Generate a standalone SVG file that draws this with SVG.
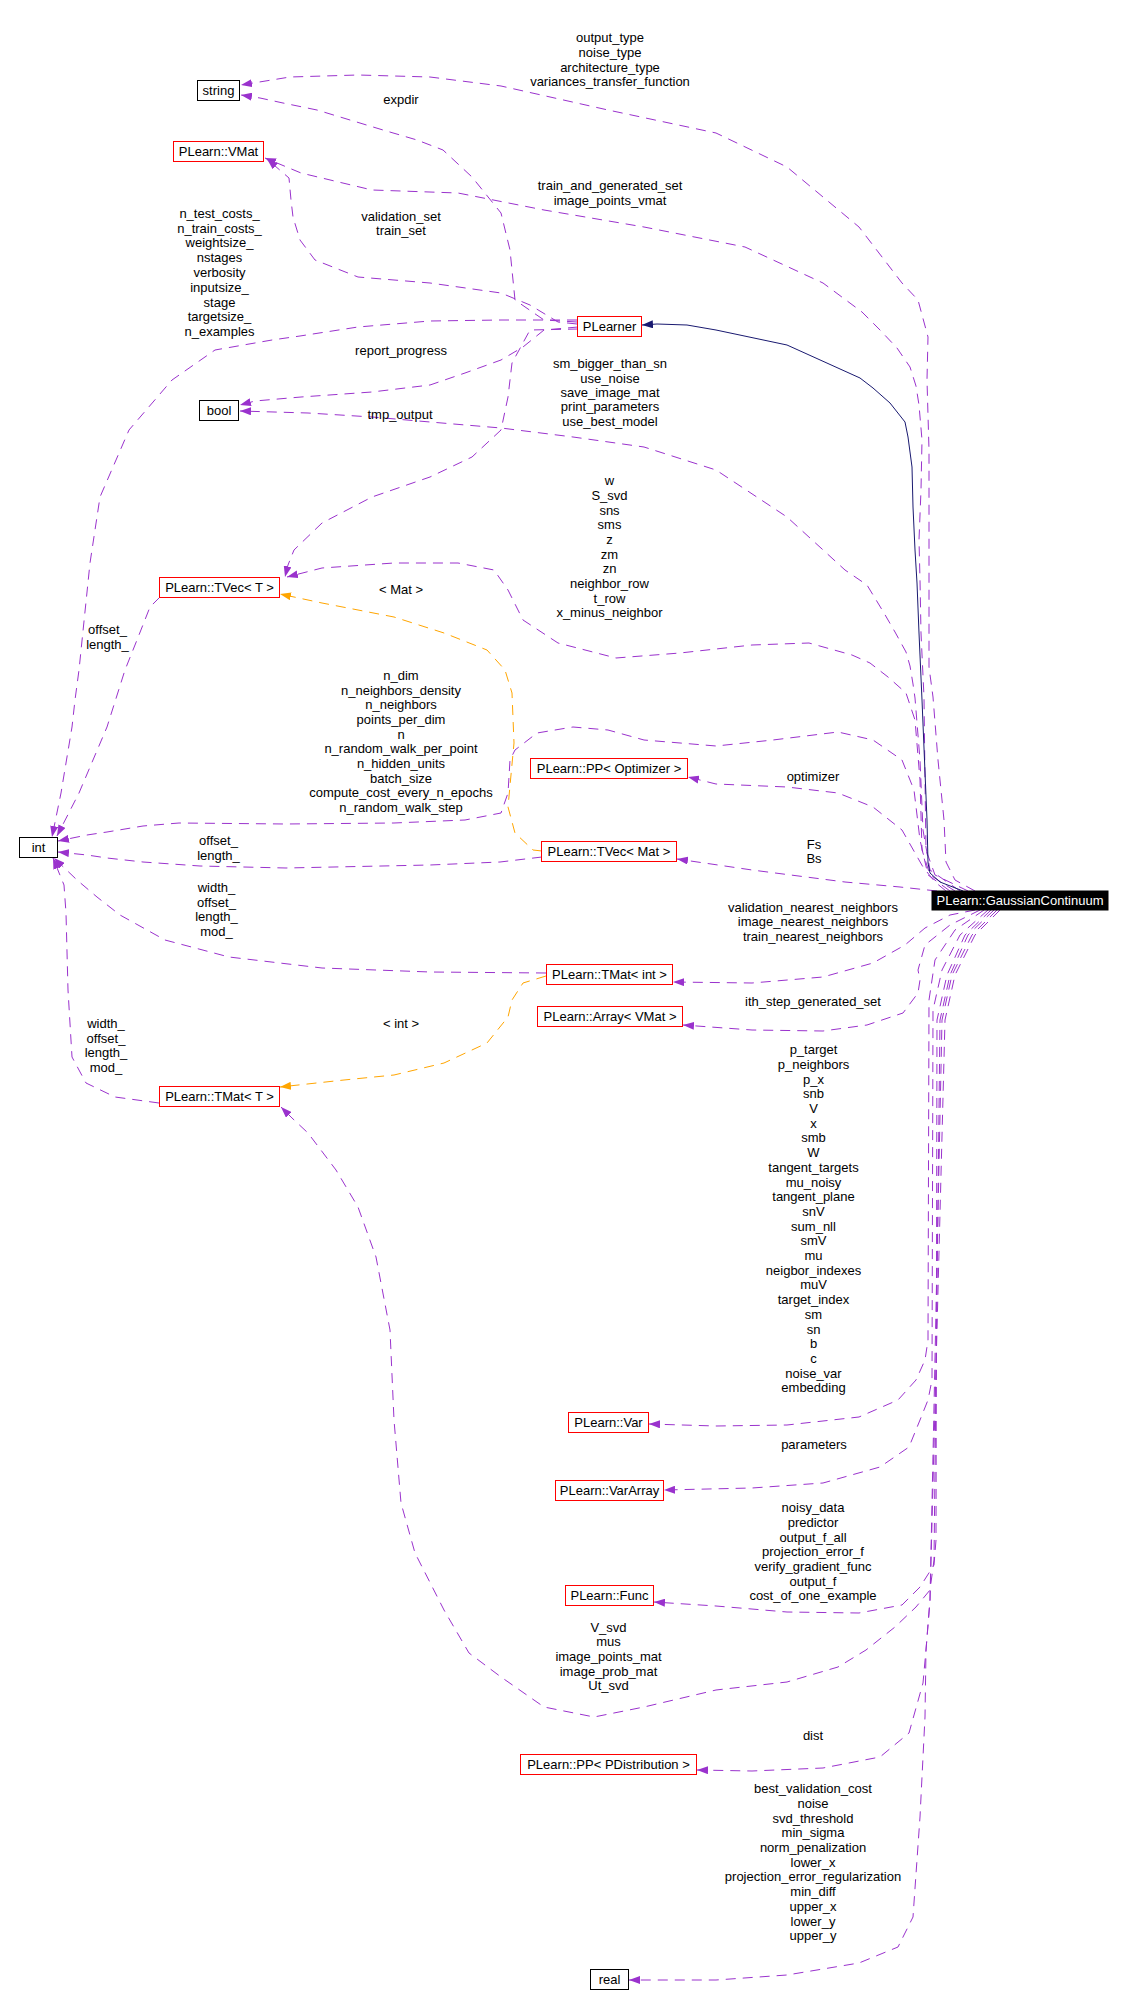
<svg xmlns="http://www.w3.org/2000/svg" width="1124" height="2009" viewBox="0 0 1124 2009">
<style>
text{font-family:"Liberation Sans",Arial,sans-serif;font-size:13px;fill:#000;text-anchor:middle}
.nb{fill:#fff;stroke:#000;stroke-width:1}
.nr{fill:#fff;stroke:#ff0000;stroke-width:1}
.nm{fill:#000;stroke:#000;stroke-width:1}
.wt{fill:#fff}
.u{fill:none;stroke:#9a32cd;stroke-width:1;stroke-dasharray:10,7;marker-end:url(#ap)}
.t{fill:none;stroke:#ffa500;stroke-width:1;stroke-dasharray:10,7;marker-end:url(#ao)}
.i{fill:none;stroke:#191970;stroke-width:1;marker-end:url(#an)}
</style>
<defs>
<marker id="ap" viewBox="0 0 11 8" refX="11" refY="4" markerWidth="11" markerHeight="8" markerUnits="userSpaceOnUse" orient="auto"><path d="M0,0L11,4L0,8z" fill="#9a32cd"/></marker>
<marker id="ao" viewBox="0 0 11 8" refX="11" refY="4" markerWidth="11" markerHeight="8" markerUnits="userSpaceOnUse" orient="auto"><path d="M0,0L11,4L0,8z" fill="#ffa500"/></marker>
<marker id="an" viewBox="0 0 11 8" refX="11" refY="4" markerWidth="11" markerHeight="8" markerUnits="userSpaceOnUse" orient="auto"><path d="M0,0L11,4L0,8z" fill="#191970"/></marker>
</defs>
<rect width="1124" height="2009" fill="#fff"/>
<g id="edges">
<g id="e_gc_string">
<path class="u" d="M975,891 L955,880 L946,862 L944,820 L938,760 L933,697 L929,667 L929,450 L927,380 L928,337 L918,300 L902,283 L859,227 L787,167 L716,133 L608,110 L501,86 L430,77 L358,75 L290,77 L241,85"/>
<text x="610" y="42.2"><tspan x="610">output_type</tspan><tspan x="610" dy="14.7">noise_type</tspan><tspan x="610" dy="14.7">architecture_type</tspan><tspan x="610" dy="14.7">variances_transfer_function</tspan></text>
</g>
<g id="e_pl_string">
<path class="u" d="M577,322 L544,320 L515,300 L510,250 L501,213 L472,177 L443,150 L417,140 L383,130 L350,120 L317,110 L283,103 L260,98 L241,95"/>
<text x="401" y="104.2">expdir</text>
</g>
<g id="e_gc_vmat">
<path class="u" d="M968,891 L935,875 L926,850 L925,780 L924,697 L921,633 L920,580 L919,540 L921,490 L922,440 L919,405 L916,386 L910,367 L897,348 L880,330 L862,312 L823,283 L745,247 L644,227 L544,210 L458,193 L372,190 L301,173 L265,158"/>
<text x="610" y="190.2"><tspan x="610">train_and_generated_set</tspan><tspan x="610" dy="14.7">image_points_vmat</tspan></text>
</g>
<g id="e_pl_vmat">
<path class="u" d="M577,324 L558,322 L530,305 L501,293 L430,283 L358,277 L315,260 L300,240 L293,217 L291,200 L289,178 L267,159"/>
<text x="401" y="220.5"><tspan x="401">validation_set</tspan><tspan x="401" dy="14">train_set</tspan></text>
</g>
<g id="e_pl_int">
<path class="u" d="M577,320 L501,320 L430,321 L358,327 L300,336 L272,340 L215,350 L172,380 L129,430 L100,497 L90,563 L79,670 L75,700 L72,727 L61,793 L52,837"/>
<text x="219.5" y="217.8"><tspan x="219.5">n_test_costs_</tspan><tspan x="219.5" dy="14.8">n_train_costs_</tspan><tspan x="219.5" dy="14.8">weightsize_</tspan><tspan x="219.5" dy="14.8">nstages</tspan><tspan x="219.5" dy="14.8">verbosity</tspan><tspan x="219.5" dy="14.8">inputsize_</tspan><tspan x="219.5" dy="14.8">stage</tspan><tspan x="219.5" dy="14.8">targetsize_</tspan><tspan x="219.5" dy="14.8">n_examples</tspan></text>
</g>
<g id="e_pl_bool">
<path class="u" d="M578,327 L544,330 L523,347 L501,360 L465,373 L430,385 L372,392 L301,397 L255,401 L240,405"/>
<text x="401" y="354.5">report_progress</text>
</g>
<g id="e_gc_bool">
<path class="u" d="M960,891 L930,870 L923,830 L920,760 L915,698 L913,684 L910,666 L906,652 L895,632 L884,613 L867,585 L845,570 L787,517 L716,470 L644,447 L573,437 L501,428 L430,422 L372,417 L308,413 L240,411"/>
<text x="610" y="368.2"><tspan x="610">sm_bigger_than_sn</tspan><tspan x="610" dy="14.4">use_noise</tspan><tspan x="610" dy="14.4">save_image_mat</tspan><tspan x="610" dy="14.4">print_parameters</tspan><tspan x="610" dy="14.4">use_best_model</tspan></text>
</g>
<g id="e_pl_tvec">
<path class="u" d="M578,329 L530,330 L512,363 L508,397 L501,430 L472,457 L430,477 L372,497 L322,523 L294,550 L288,565 L285,577"/>
<text x="400" y="418.5">tmp_output</text>
</g>
<g id="e_gc_tvec">
<path class="u" d="M955,891 L930,875 L922,850 L920,780 L915,720 L906,693 L888,677 L870,663 L852,655 L809,643 L752,645 L680,653 L616,658 L558,643 L523,620 L508,590 L494,570 L458,563 L394,563 L322,568 L287,577"/>
<text x="609.5" y="485.2"><tspan x="609.5">w</tspan><tspan x="609.5" dy="14.67">S_svd</tspan><tspan x="609.5" dy="14.67">sns</tspan><tspan x="609.5" dy="14.67">sms</tspan><tspan x="609.5" dy="14.67">z</tspan><tspan x="609.5" dy="14.67">zm</tspan><tspan x="609.5" dy="14.67">zn</tspan><tspan x="609.5" dy="14.67">neighbor_row</tspan><tspan x="609.5" dy="14.67">t_row</tspan><tspan x="609.5" dy="14.67">x_minus_neighbor</tspan></text>
</g>
<g id="e_tvecmat_tvec">
<path class="t" d="M542,851 L533,850 L515,833 L508,807 L514,743 L512,693 L505,670 L487,650 L444,633 L394,617 L322,603 L280,594"/>
<text x="401" y="593.8">&lt; Mat &gt;</text>
</g>
<g id="e_tvec_int">
<path class="u" d="M160,597 L150,607 L137,640 L125,670 L107,727 L79,793 L57,836"/>
<text x="107.5" y="633.8"><tspan x="107.5">offset_</tspan><tspan x="107.5" dy="14.7">length_</tspan></text>
</g>
<g id="e_gc_int">
<path class="u" d="M950,891 L928,875 L920,840 L914,790 L902,760 L873,740 L838,732 L773,740 L716,746 L644,740 L608,730 L573,727 L537,733 L515,750 L510,760 L508,793 L501,813 L465,820 L394,823 L286,824 L179,823 L143,826 L107,832 L87,835 L58,841"/>
<text x="401" y="679.8"><tspan x="401">n_dim</tspan><tspan x="401" dy="14.7">n_neighbors_density</tspan><tspan x="401" dy="14.7">n_neighbors</tspan><tspan x="401" dy="14.7">points_per_dim</tspan><tspan x="401" dy="14.7">n</tspan><tspan x="401" dy="14.7">n_random_walk_per_point</tspan><tspan x="401" dy="14.7">n_hidden_units</tspan><tspan x="401" dy="14.7">batch_size</tspan><tspan x="401" dy="14.7">compute_cost_every_n_epochs</tspan><tspan x="401" dy="14.7">n_random_walk_step</tspan></text>
</g>
<g id="e_gc_optimizer">
<path class="u" d="M946,891 L935,882 L923,867 L902,830 L873,807 L838,793 L787,787 L716,784 L688,777"/>
<text x="813" y="780.5">optimizer</text>
</g>
<g id="e_gc_tvecmat">
<path class="u" d="M937,891 L900,887 L845,882 L752,870 L677,859"/>
<text x="814" y="848.5"><tspan x="814">Fs</tspan><tspan x="814" dy="14.7">Bs</tspan></text>
</g>
<g id="e_tvecmat_int">
<path class="u" d="M542,857 L500,862 L430,865 L286,868 L200,866 L143,862 L107,858 L87,855 L58,852"/>
<text x="218.5" y="845.2"><tspan x="218.5">offset_</tspan><tspan x="218.5" dy="14.7">length_</tspan></text>
</g>
<g id="e_tmatint_int">
<path class="u" d="M546,973 L430,972 L322,968 L229,957 L165,940 L120,915 L97,897 L77,880 L54,858"/>
<text x="216.5" y="891.8"><tspan x="216.5">width_</tspan><tspan x="216.5" dy="14.7">offset_</tspan><tspan x="216.5" dy="14.7">length_</tspan><tspan x="216.5" dy="14.7">mod_</tspan></text>
</g>
<g id="e_tmat_int">
<path class="u" d="M159,1103 L115,1097 L86,1083 L72,1057 L68,990 L66,913 L64,885 L53,858"/>
<text x="106" y="1027.8"><tspan x="106">width_</tspan><tspan x="106" dy="14.7">offset_</tspan><tspan x="106" dy="14.7">length_</tspan><tspan x="106" dy="14.7">mod_</tspan></text>
</g>
<g id="e_tmatint_tmat">
<path class="t" d="M546,976 L523,983 L512,1000 L508,1017 L487,1043 L444,1063 L394,1075 L344,1080 L280,1087"/>
<text x="401" y="1027.8">&lt; int &gt;</text>
</g>
<g id="e_gc_tmatint">
<path class="u" d="M975,910 L950,915 L925,928 L905,945 L873,963 L823,977 L752,983 L673,982"/>
<text x="813" y="911.8"><tspan x="813">validation_nearest_neighbors</tspan><tspan x="813" dy="14.5">image_nearest_neighbors</tspan><tspan x="813" dy="14.5">train_nearest_neighbors</tspan></text>
</g>
<g id="e_gc_array">
<path class="u" d="M980,910 L950,925 L925,945 L918,970 L920,980 L918,993 L903,1013 L867,1025 L823,1031 L752,1030 L683,1025"/>
<text x="813" y="1006.2">ith_step_generated_set</text>
</g>
<g id="e_gc_var">
<path class="u" d="M984,910 L955,930 L935,960 L929,1000 L928,1340 L925,1360 L916,1380 L898,1400 L859,1417 L787,1425 L716,1426 L649,1424"/>
<text x="813.5" y="1054.2"><tspan x="813.5">p_target</tspan><tspan x="813.5" dy="14.7">p_neighbors</tspan><tspan x="813.5" dy="14.7">p_x</tspan><tspan x="813.5" dy="14.7">snb</tspan><tspan x="813.5" dy="14.7">V</tspan><tspan x="813.5" dy="14.7">x</tspan><tspan x="813.5" dy="14.7">smb</tspan><tspan x="813.5" dy="14.7">W</tspan><tspan x="813.5" dy="14.7">tangent_targets</tspan><tspan x="813.5" dy="14.7">mu_noisy</tspan><tspan x="813.5" dy="14.7">tangent_plane</tspan><tspan x="813.5" dy="14.7">snV</tspan><tspan x="813.5" dy="14.7">sum_nll</tspan><tspan x="813.5" dy="14.7">smV</tspan><tspan x="813.5" dy="14.7">mu</tspan><tspan x="813.5" dy="14.7">neigbor_indexes</tspan><tspan x="813.5" dy="14.7">muV</tspan><tspan x="813.5" dy="14.7">target_index</tspan><tspan x="813.5" dy="14.7">sm</tspan><tspan x="813.5" dy="14.7">sn</tspan><tspan x="813.5" dy="14.7">b</tspan><tspan x="813.5" dy="14.7">c</tspan><tspan x="813.5" dy="14.7">noise_var</tspan><tspan x="813.5" dy="14.7">embedding</tspan></text>
</g>
<g id="e_gc_vararray">
<path class="u" d="M988,910 L960,935 L942,970 L933,1010 L932,1380 L928,1400 L920,1420 L909,1447 L880,1467 L823,1483 L752,1488 L664,1490"/>
<text x="814" y="1448.5">parameters</text>
</g>
<g id="e_gc_func">
<path class="u" d="M991,910 L965,935 L947,975 L937,1020 L936,1540 L934,1565 L920,1587 L902,1605 L859,1613 L787,1612 L716,1606 L654,1602"/>
<text x="813" y="1512.2"><tspan x="813">noisy_data</tspan><tspan x="813" dy="14.67">predictor</tspan><tspan x="813" dy="14.67">output_f_all</tspan><tspan x="813" dy="14.67">projection_error_f</tspan><tspan x="813" dy="14.67">verify_gradient_func</tspan><tspan x="813" dy="14.67">output_f</tspan><tspan x="813" dy="14.67">cost_of_one_example</tspan></text>
</g>
<g id="e_gc_tmat">
<path class="u" d="M994,910 L968,935 L950,975 L940,1020 L934,1560 L930,1590 L916,1607 L895,1627 L866,1650 L838,1667 L787,1682 L716,1690 L644,1707 L594,1717 L544,1707 L501,1677 L469,1653 L444,1610 L415,1553 L401,1503 L394,1420 L390,1330 L376,1257 L358,1207 L336,1170 L308,1133 L292,1118 L281,1107"/>
<text x="608.5" y="1631.5"><tspan x="608.5">V_svd</tspan><tspan x="608.5" dy="14.7">mus</tspan><tspan x="608.5" dy="14.7">image_points_mat</tspan><tspan x="608.5" dy="14.7">image_prob_mat</tspan><tspan x="608.5" dy="14.7">Ut_svd</tspan></text>
</g>
<g id="e_gc_pdist">
<path class="u" d="M997,910 L972,935 L952,975 L942,1020 L930,1600 L926,1650 L923,1683 L909,1733 L880,1757 L823,1768 L752,1771 L697,1770"/>
<text x="813" y="1740.2">dist</text>
</g>
<g id="e_gc_real">
<path class="u" d="M1000,910 L975,935 L955,975 L945,1020 L930,1600 L926,1650 L925,1717 L920,1817 L913,1917 L898,1947 L859,1963 L787,1975 L716,1980 L629,1980"/>
<text x="813" y="1793.2"><tspan x="813">best_validation_cost</tspan><tspan x="813" dy="14.7">noise</tspan><tspan x="813" dy="14.7">svd_threshold</tspan><tspan x="813" dy="14.7">min_sigma</tspan><tspan x="813" dy="14.7">norm_penalization</tspan><tspan x="813" dy="14.7">lower_x</tspan><tspan x="813" dy="14.7">projection_error_regularization</tspan><tspan x="813" dy="14.7">min_diff</tspan><tspan x="813" dy="14.7">upper_x</tspan><tspan x="813" dy="14.7">lower_y</tspan><tspan x="813" dy="14.7">upper_y</tspan></text>
</g>
<g id="e_gc_plearner">
<path class="i" d="M963,891 L940,882 L930,873 L928,863 L927,820 L922,700 L919,633 L917,583 L915,550 L913,507 L912,467 L908,437 L905,422 L890,403 L873,388 L860,378 L787,345 L716,330 L687,325 L657,324 L642,325"/>
</g>
</g>
<g id="n_string"><rect class="nb" x="197.5" y="80.5" width="42" height="20"/><text x="218.5" y="95">string</text></g>
<g id="n_vmat"><rect class="nr" x="173.5" y="141.5" width="90" height="20"/><text x="218.5" y="156">PLearn::VMat</text></g>
<g id="n_plearner"><rect class="nr" x="577.5" y="316.5" width="64" height="20"/><text x="609.5" y="331">PLearner</text></g>
<g id="n_bool"><rect class="nb" x="199.5" y="400.5" width="39" height="20"/><text x="219" y="415">bool</text></g>
<g id="n_tvec"><rect class="nr" x="159.5" y="577.5" width="120" height="20"/><text x="219.5" y="592">PLearn::TVec&lt; T &gt;</text></g>
<g id="n_pp_optimizer"><rect class="nr" x="530.5" y="758.5" width="157" height="20"/><text x="609" y="773">PLearn::PP&lt; Optimizer &gt;</text></g>
<g id="n_int"><rect class="nb" x="19.5" y="837.5" width="38" height="20"/><text x="38.5" y="852">int</text></g>
<g id="n_tvec_mat"><rect class="nr" x="541.5" y="841.5" width="135" height="20"/><text x="609" y="856">PLearn::TVec&lt; Mat &gt;</text></g>
<g id="n_gaussian"><rect class="nm" x="932" y="891" width="176" height="19"/><text class="wt" x="1020" y="905">PLearn::GaussianContinuum</text></g>
<g id="n_tmat_int"><rect class="nr" x="546.5" y="964.5" width="126" height="20"/><text x="609.5" y="979">PLearn::TMat&lt; int &gt;</text></g>
<g id="n_array_vmat"><rect class="nr" x="537.5" y="1006.5" width="145" height="20"/><text x="610" y="1021">PLearn::Array&lt; VMat &gt;</text></g>
<g id="n_tmat"><rect class="nr" x="159.5" y="1086.5" width="120" height="20"/><text x="219.5" y="1101">PLearn::TMat&lt; T &gt;</text></g>
<g id="n_var"><rect class="nr" x="568.5" y="1412.5" width="80" height="20"/><text x="608.5" y="1427">PLearn::Var</text></g>
<g id="n_vararray"><rect class="nr" x="555.5" y="1480.5" width="108" height="20"/><text x="609.5" y="1495">PLearn::VarArray</text></g>
<g id="n_func"><rect class="nr" x="565.5" y="1585.5" width="88" height="20"/><text x="609.5" y="1600">PLearn::Func</text></g>
<g id="n_pp_pdist"><rect class="nr" x="520.5" y="1754.5" width="176" height="20"/><text x="608.5" y="1769">PLearn::PP&lt; PDistribution &gt;</text></g>
<g id="n_real"><rect class="nb" x="590.5" y="1969.5" width="38" height="20"/><text x="609.5" y="1984">real</text></g>
</svg>
